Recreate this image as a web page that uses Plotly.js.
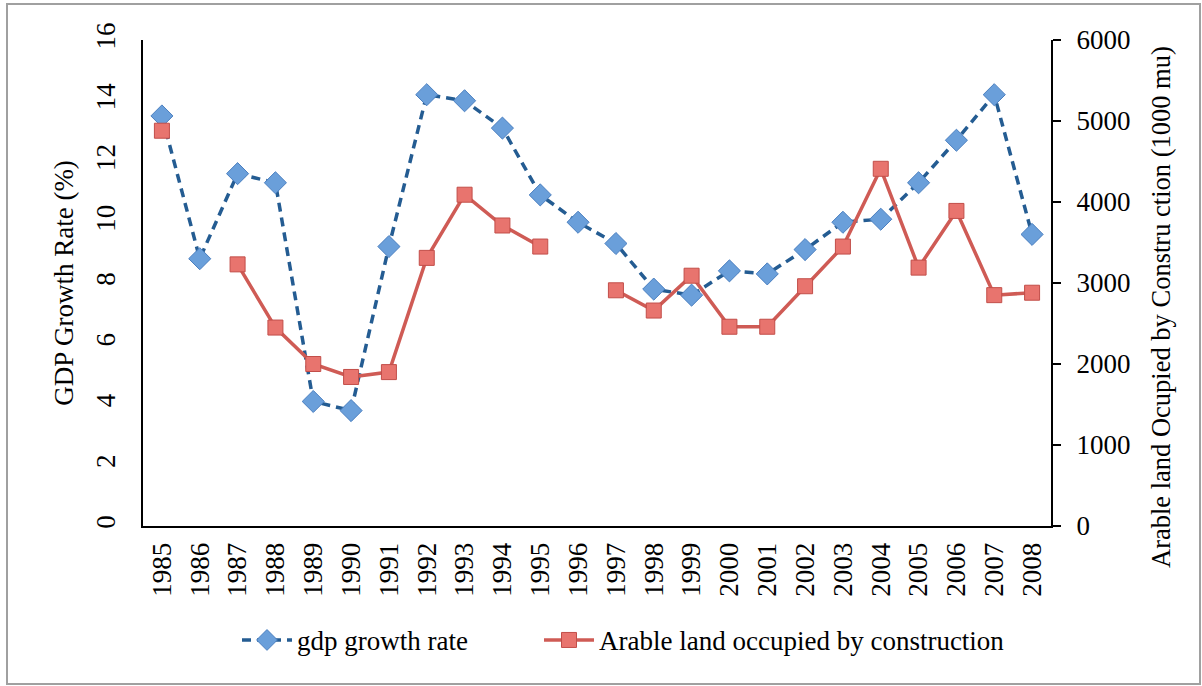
<!DOCTYPE html>
<html>
<head>
<meta charset="utf-8">
<script src="https://cdn.plot.ly/plotly-3.0.1.min.js"></script>
<style>html,body{margin:0;padding:0;background:#fff;}#chart{width:1202px;height:686px;}</style>
</head>
<body>
<div id="chart"></div>
<script>
const years = ['1985','1986','1987','1988','1989','1990','1991','1992','1993','1994','1995','1996','1997','1998','1999','2000','2001','2002','2003','2004','2005','2006','2007','2008'];
const gdpGrowth = [13.5, 8.8, 11.6, 11.3, 4.1, 3.8, 9.2, 14.2, 14.0, 13.1, 10.9, 10.0, 9.3, 7.8, 7.6, 8.4, 8.3, 9.1, 10.0, 10.1, 11.3, 12.7, 14.2, 9.6];
const arableLand = [4880, null, 3230, 2450, 2000, 1840, 1900, 3310, 4090, 3710, 3450, null, 2910, 2660, 3090, 2460, 2460, 2960, 3450, 4410, 3190, 3890, 2850, 2880];
const leftTicks = [0, 2, 4, 6, 8, 10, 12, 14, 16];
const rightTicks = [0, 1000, 2000, 3000, 4000, 5000, 6000];

const font = 'Liberation Serif, Times New Roman, serif';

const traces = [
  {
    x: years, y: gdpGrowth, name: 'gdp growth rate', type: 'scatter', mode: 'lines+markers',
    line: {color: '#245C92', width: 3.5, dash: '9px,6px'},
    marker: {symbol: 'diamond', size: 17, color: '#6A9FDA', line: {color: '#4A7FC0', width: 1}},
    yaxis: 'y', legend: 'legend'
  },
  {
    x: years, y: arableLand, name: 'Arable land occupied by construction', type: 'scatter', mode: 'lines+markers',
    connectgaps: false,
    line: {color: '#CF5B55', width: 3.5},
    marker: {symbol: 'square', size: 15, color: '#E8746E', line: {color: '#C24E49', width: 1}},
    yaxis: 'y2', legend: 'legend2'
  }
];

const legendBase = {orientation: 'h', y: -0.185, xanchor: 'left', yanchor: 'top',
  font: {family: font, size: 27, color: '#000'}, itemwidth: 50, bgcolor: 'rgba(0,0,0,0)'};

const layout = {
  width: 1202, height: 686,
  margin: {l: 143, r: 151, t: 40, b: 160},
  paper_bgcolor: '#fff', plot_bgcolor: '#fff',
  font: {family: font, color: '#000', size: 27},
  showlegend: true,
  legend: Object.assign({}, legendBase, {x: (237 - 143) / 908}),
  legend2: Object.assign({}, legendBase, {x: (539 - 143) / 908}),
  xaxis: {
    type: 'category', categoryorder: 'array', categoryarray: years,
    showline: true, linecolor: '#000', linewidth: 2, showgrid: false, zeroline: false,
    ticks: '', tickangle: -90, tickfont: {family: font, size: 27, color: '#000'},
    ticklabelstandoff: 4, range: [-0.5, 23.5], automargin: false
  },
  yaxis: {
    range: [0, 16], tickvals: leftTicks, ticktext: leftTicks.map(String),
    showline: true, linecolor: '#000', linewidth: 2, showgrid: false, zeroline: false,
    ticks: '', tickangle: -90, tickfont: {family: font, size: 27, color: '#000'},
    ticklabelstandoff: 15,
    title: {text: 'GDP Growth Rate (%)', font: {family: font, size: 27, color: '#000'}, standoff: 10},
    automargin: false
  },
  yaxis2: {
    range: [0, 6000], tickvals: rightTicks, ticktext: rightTicks.map(String),
    overlaying: 'y', side: 'right', anchor: 'x',
    showline: true, linecolor: '#000', linewidth: 2, showgrid: false, zeroline: false,
    ticks: 'outside', ticklen: 8, tickwidth: 2, tickcolor: '#000',
    tickfont: {family: font, size: 27, color: '#000'}, ticklabelstandoff: 10,
    automargin: false
  },
  annotations: [
    {text: 'Arable land Ocupied by Constru ction (1000 mu)', xref: 'paper', yref: 'paper',
     x: (1161 - 143) / 908, y: (526 - 307) / 486, xanchor: 'center', yanchor: 'middle',
     textangle: -90, showarrow: false, font: {family: font, size: 26.5, color: '#000'}}
  ],
  shapes: [
    {type: 'rect', xref: 'paper', yref: 'paper',
     x0: (7 - 143) / 908, x1: (1200 - 143) / 908, y0: (526 - 684) / 486, y1: (526 - 4) / 486,
     line: {color: '#A0A0A0', width: 2}, fillcolor: 'rgba(0,0,0,0)', layer: 'below'}
  ]
};

Plotly.newPlot('chart', traces, layout, {displayModeBar: false, staticPlot: true});
</script>
</body>
</html>
